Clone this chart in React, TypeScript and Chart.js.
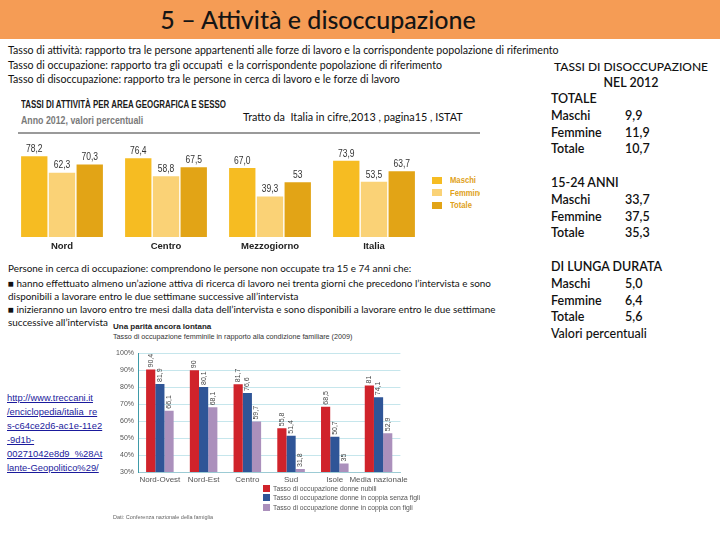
import React, { useEffect, useRef } from "react";
import { Chart, registerables } from "chart.js";
Chart.register(...registerables);

// ---- Chart 1: Tassi di attività per area geografica e sesso (2012)
const areas = ["Nord", "Centro", "Mezzogiorno", "Italia"];
const maschi = [78.2, 76.4, 67.0, 73.9];
const femmine = [62.3, 58.8, 39.3, 53.5];
const totale = [70.3, 67.5, 53, 63.7];
const maschiLabels = ["78,2", "76,4", "67,0", "73,9"];
const femmineLabels = ["62,3", "58,8", "39,3", "53,5"];
const totaleLabels = ["70,3", "67,5", "53", "63,7"];
const legend1 = ["Maschi", "Femmine", "Totale"];

// ---- Chart 2: Tasso di occupazione femminile (2009)
const regions = ["Nord-Ovest", "Nord-Est", "Centro", "Sud", "Isole", "Media nazionale"];
const nubili = [90.4, 90, 81.7, 55.8, 68.5, 81];
const senzaFigli = [81.9, 80.1, 76.6, 51.4, 50.7, 74.1];
const conFigli = [66.1, 68.1, 59.7, 31.8, 35, 52.9];
const nubiliLabels = ["90,4", "90", "81,7", "55,8", "68,5", "81"];
const senzaFigliLabels = ["81,9", "80,1", "76,6", "51,4", "50,7", "74,1"];
const conFigliLabels = ["66,1", "68,1", "59,7", "31,8", "35", "52,9"];
const legend2 = [
  "Tasso di occupazione donne nubili",
  "Tasso di occupazione donne in coppia senza figli",
  "Tasso di occupazione donne in coppia con figli",
];

// ---- Right column: tassi di disoccupazione 2012
const disTotale = ["9,9", "11,9", "10,7"];
const dis1524 = ["33,7", "37,5", "35,3"];
const disLunga = ["5,0", "6,4", "5,6"];
const sexRows = ["Maschi", "Femmine", "Totale"];

const linkLines = [
  "http://www.treccani.it",
  "/enciclopedia/italia_re",
  "s-c64ce2d6-ac1e-11e2",
  "-9d1b-",
  "00271042e8d9_%28At",
  "lante-Geopolitico%29/",
];

const C1 = ["#F6BC22", "#FAD276", "#E2A416"];
const C2 = ["#D0232B", "#2F5597", "#AB90BC"];
const SANS = "'Liberation Sans', Arial, sans-serif";
const BODY = 'Lato, "Open Sans", sans-serif';

const labelPlugin = (mode: "h" | "v", font: string, color: string, hScale = 1) => ({
  id: "valueLabels",
  afterDatasetsDraw(chart: any) {
    const ctx = chart.ctx;
    ctx.save();
    ctx.font = font;
    ctx.fillStyle = color;
    chart.data.datasets.forEach((ds: any, i: number) => {
      const meta = chart.getDatasetMeta(i);
      meta.data.forEach((bar: any, j: number) => {
        const txt = ds.valueLabels[j];
        ctx.save();
        if (mode === "h") {
          ctx.translate(bar.x, bar.y - 2);
          ctx.scale(hScale, 1);
          ctx.textAlign = "center";
          ctx.textBaseline = "bottom";
          ctx.fillText(txt, 0, 0);
        } else {
          ctx.translate(bar.x, bar.y - 2);
          ctx.rotate(-Math.PI / 2);
          ctx.textAlign = "left";
          ctx.textBaseline = "middle";
          ctx.fillText(txt, 0, 0);
        }
        ctx.restore();
      });
    });
    ctx.restore();
  },
});

function Chart1() {
  const ref = useRef<HTMLCanvasElement>(null);
  useEffect(() => {
    const chart = new Chart(ref.current!, {
      type: "bar",
      data: {
        labels: areas,
        datasets: [
          { label: legend1[0], data: maschi, backgroundColor: C1[0], valueLabels: maschiLabels } as any,
          { label: legend1[1], data: femmine, backgroundColor: C1[1], valueLabels: femmineLabels } as any,
          { label: legend1[2], data: totale, backgroundColor: C1[2], valueLabels: totaleLabels } as any,
        ],
      },
      options: {
        animation: false,
        responsive: false,
        layout: { padding: { top: 4, left: 0, right: 0, bottom: 0 } },
        plugins: { legend: { display: false }, tooltip: { enabled: false } },
        scales: {
          x: {
            grid: { display: false, drawTicks: false },
            border: { display: false },
            ticks: { color: "#222", font: { family: SANS, size: 9.5, weight: "bold" }, padding: 4 },
            afterFit: (s: any) => { s.height = 18; },
          },
          y: { display: false, min: 0, max: 95 },
        },
        datasets: { bar: { categoryPercentage: 0.8, barPercentage: 0.95 } },
      } as any,
      plugins: [labelPlugin("h", `10px ${SANS}`, "#333", 0.85)],
    });
    return () => chart.destroy();
  }, []);
  return <canvas ref={ref} width={416} height={120} style={{ position: "absolute", left: 10, top: 135 }} />;
}

function Chart2() {
  const ref = useRef<HTMLCanvasElement>(null);
  useEffect(() => {
    const chart = new Chart(ref.current!, {
      type: "bar",
      data: {
        labels: regions,
        datasets: [
          { label: legend2[0], data: nubili, backgroundColor: C2[0], valueLabels: nubiliLabels } as any,
          { label: legend2[1], data: senzaFigli, backgroundColor: C2[1], valueLabels: senzaFigliLabels } as any,
          { label: legend2[2], data: conFigli, backgroundColor: C2[2], valueLabels: conFigliLabels } as any,
        ],
      },
      options: {
        animation: false,
        responsive: false,
        layout: { padding: { top: 8, left: 0, right: 4, bottom: 0 } },
        plugins: { legend: { display: false }, tooltip: { enabled: false } },
        scales: {
          x: {
            grid: { display: false, drawTicks: false },
            border: { display: true, color: "#9CCBD4" },
            ticks: { color: "#555", font: { family: SANS, size: 8 }, padding: 3, maxRotation: 0, autoSkip: false },
            afterFit: (s: any) => { s.height = 14; },
          },
          y: {
            min: 30,
            max: 100,
            ticks: { stepSize: 10, color: "#555", font: { family: SANS, size: 7 }, padding: 4, callback: (v: any) => v + "%" },
            grid: { color: "#C6E6EC", drawTicks: false },
            border: { display: true, color: "#3E9AA8", width: 1 },
            afterFit: (s: any) => { s.width = 30; },
          },
        },
        datasets: { bar: { categoryPercentage: 0.63, barPercentage: 1 } },
      } as any,
      plugins: [labelPlugin("v", `7px ${SANS}`, "#444")],
    });
    return () => chart.destroy();
  }, []);
  return <canvas ref={ref} width={303} height={141} style={{ position: "absolute", left: 108, top: 345 }} />;
}

const abs = (left: number, top: number, extra: React.CSSProperties = {}): React.CSSProperties => ({
  position: "absolute",
  left,
  top,
  whiteSpace: "nowrap",
  ...extra,
});

export default function App() {
  const defText: React.CSSProperties = { fontFamily: BODY, fontSize: 10.6, color: "#111", lineHeight: "12px" };
  const bodyText: React.CSSProperties = { fontFamily: BODY, fontSize: 9.9, color: "#111", lineHeight: "12px" };
  const rc: React.CSSProperties = { fontFamily: BODY, fontSize: 12.5, color: "#111", lineHeight: "16px", fontWeight: 600 };
  const block = (title: string, vals: string[], top: number) => (
    <>
      <div style={abs(551, top, rc)}>{title}</div>
      {sexRows.map((s, i) => (
        <React.Fragment key={s}>
          <div style={abs(551, top + 16.8 * (i + 1), rc)}>{s}</div>
          <div style={abs(625, top + 16.8 * (i + 1), rc)}>{vals[i]}</div>
        </React.Fragment>
      ))}
    </>
  );
  return (
    <div style={{ position: "absolute", left: 0, top: 0, width: 720, height: 540, background: "#fff", overflow: "hidden" }}>
      {/* Title bar */}
      <div style={{ position: "absolute", left: 0, top: 0, width: 720, height: 39, background: "#F59C55" }} />
      <div style={abs(0, 2, { width: 636, textAlign: "center", fontFamily: BODY, fontSize: 25, lineHeight: "34px", color: "#151515", fontWeight: 500 })}>
        5 – Attività e disoccupazione
      </div>

      {/* Definitions */}
      <div style={abs(8, 44, defText)}>Tasso di attività: rapporto tra le persone appartenenti alle forze di lavoro e la corrispondente popolazione di riferimento</div>
      <div style={abs(8, 59, defText)}>Tasso di occupazione: rapporto tra gli occupati&nbsp; e la corrispondente popolazione di riferimento</div>
      <div style={abs(8, 73, defText)}>Tasso di disoccupazione: rapporto tra le persone in cerca di lavoro e le forze di lavoro</div>

      {/* Chart 1 header */}
      <div style={abs(21, 97, { fontFamily: SANS, fontSize: 11, fontWeight: "bold", color: "#1a1a1a", lineHeight: "14px", transform: "scaleX(0.72)", transformOrigin: "left center" })}>
        TASSI DI ATTIVITÀ PER AREA GEOGRAFICA E SESSO
      </div>
      <div style={abs(21, 113, { fontFamily: SANS, fontSize: 11, fontWeight: "bold", color: "#7a7a7a", lineHeight: "14px", transform: "scaleX(0.8)", transformOrigin: "left center" })}>
        Anno 2012, valori percentuali
      </div>
      <div style={abs(243, 111, { ...defText, fontSize: 10.8 })}>Tratto da&nbsp; Italia in cifre,2013 , pagina15 , ISTAT</div>
      <div style={{ position: "absolute", left: 18, top: 132, width: 462, height: 1.5, background: "#9a9a9a" }} />
      <Chart1 />
      <div style={{ position: "absolute", left: 430, top: 172, width: 50, height: 40, overflow: "hidden" }}>
        {legend1.map((l, i) => (
          <div key={l} style={{ position: "absolute", left: 2, top: 3 + i * 12.5, height: 10, display: "flex", alignItems: "center" }}>
            <div style={{ width: 10, height: 7, background: C1[i], marginRight: 8 }} />
            <span style={{ fontFamily: SANS, fontSize: 9, fontWeight: "bold", color: "#E0A120", whiteSpace: "nowrap", display: "inline-block", transform: "scaleX(0.85)", transformOrigin: "left center" }}>{l}</span>
          </div>
        ))}
      </div>

      {/* Right column */}
      <div style={abs(540, 59, { ...rc, fontSize: 12, width: 182, textAlign: "center", fontWeight: 500 })}>TASSI DI DISOCCUPAZIONE</div>
      <div style={abs(540, 75, { ...rc, width: 182, textAlign: "center" })}>NEL 2012</div>
      {block("TOTALE", disTotale, 91)}
      {block("15-24 ANNI", dis1524, 175)}
      {block("DI LUNGA DURATA", disLunga, 259)}
      <div style={abs(551, 326, { ...rc, fontWeight: 500 })}>Valori percentuali</div>

      {/* Bottom-left definition */}
      <div style={abs(8, 262, bodyText)}>Persone in cerca di occupazione: comprendono le persone non occupate tra 15 e 74 anni che:</div>
      <div style={abs(8, 277, bodyText)}>■ hanno effettuato almeno un’azione attiva di ricerca di lavoro nei trenta giorni che precedono l’intervista e sono</div>
      <div style={abs(8, 290, bodyText)}>disponibili a lavorare entro le due settimane successive all’intervista</div>
      <div style={abs(8, 303, bodyText)}>■ inizieranno un lavoro entro tre mesi dalla data dell’intervista e sono disponibili a lavorare entro le due settimane</div>
      <div style={abs(8, 316, bodyText)}>successive all’intervista</div>

      {/* Chart 2 header */}
      <div style={abs(113, 322, { fontFamily: SANS, fontSize: 8, fontWeight: "bold", color: "#222", lineHeight: "10px" })}>
        Una parità ancora lontana
      </div>
      <div style={abs(113, 332, { fontFamily: SANS, fontSize: 7.2, color: "#333", lineHeight: "10px" })}>
        Tasso di occupazione femminile in rapporto alla condizione familiare (2009)
      </div>
      <Chart2 />
      {legend2.map((l, i) => (
        <div key={l} style={abs(263, 484 + i * 9.3, { display: "flex", alignItems: "center", height: 9 })}>
          <div style={{ width: 7, height: 7, background: C2[i], marginRight: 3 }} />
          <span style={{ fontFamily: SANS, fontSize: 6.8, color: "#555" }}>{l}</span>
        </div>
      ))}
      <div style={abs(113, 514, { fontFamily: SANS, fontSize: 5.5, color: "#666" })}>
        Dati: Conferenza nazionale della famiglia
      </div>

      {/* Link */}
      <div style={{ position: "absolute", left: 7, top: 391, fontFamily: SANS, fontSize: 9.4, lineHeight: "14px", color: "#1a1a9c", textDecoration: "underline", whiteSpace: "nowrap" }}>
        {linkLines.map((l, i) => (
          <div key={i}>{l}</div>
        ))}
      </div>
    </div>
  );
}
